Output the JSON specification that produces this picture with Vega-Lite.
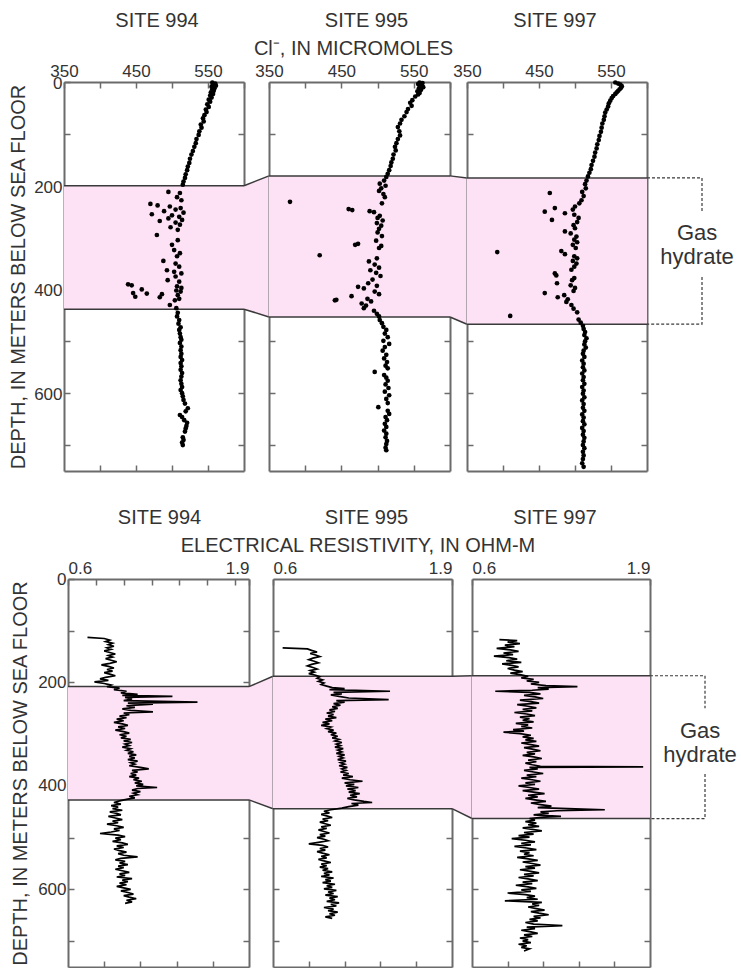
{
  "$schema": "https://vega.github.io/schema/vega-lite/v6.json",
  "padding": {"left": 8, "top": 11, "right": 5, "bottom": 0},
  "config": {
    "font": "Liberation Sans",
    "view": {"stroke": null},
    "title": {"font": "Liberation Sans", "fontSize": 20, "fontWeight": "normal", "color": "#333", "frame": "group", "anchor": "middle", "offset": 7.5},
    "axis": {"zindex": 1, "grid": false, "domainColor": "#6b6b6b", "domainWidth": 2, "tickColor": "#6b6b6b", "tickWidth": 1.5, "tickSize": -6, "labelFont": "Liberation Sans", "labelFontSize": 17, "labelColor": "#333", "labelPadding": 8, "titleFont": "Liberation Sans", "titleFontSize": 20, "titleFontWeight": "normal", "titleColor": "#333", "titlePadding": 3.5}
  },
  "datasets": {
    "zonesTop": [
      {"col": 0, "site": "994", "top": 200, "bot": 438},
      {"col": 1, "site": "995", "top": 181, "bot": 453},
      {"col": 2, "site": "997", "top": 185, "bot": 467}
    ],
    "zonesBot": [
      {"col": 0, "site": "994", "top": 208, "bot": 427},
      {"col": 1, "site": "995", "top": 188, "bot": 444},
      {"col": 2, "site": "997", "top": 187, "bot": 463}
    ],
    "bracketTop": [
      {"part": "a", "k": 0, "x": 0, "d": 185}, {"part": "a", "k": 1, "x": 1, "d": 185}, {"part": "a", "k": 2, "x": 1, "d": 251},
      {"part": "b", "k": 0, "x": 1, "d": 376}, {"part": "b", "k": 1, "x": 1, "d": 467}, {"part": "b", "k": 2, "x": 0, "d": 467}
    ],
    "bracketBot": [
      {"part": "a", "k": 0, "x": 0, "d": 187}, {"part": "a", "k": 1, "x": 1, "d": 187}, {"part": "a", "k": 2, "x": 1, "d": 250},
      {"part": "b", "k": 0, "x": 1, "d": 377}, {"part": "b", "k": 1, "x": 1, "d": 463}, {"part": "b", "k": 2, "x": 0, "d": 463}
    ],
    "noteTop": [{"x": 0.91, "d": 291, "t": "Gas"}, {"x": 0.91, "d": 338, "t": "hydrate"}],
    "noteBot": [{"x": 0.91, "d": 294, "t": "Gas"}, {"x": 0.91, "d": 340, "t": "hydrate"}],
    "cl994": [
      {"d":1,"c":556},{"d":3,"c":560},{"d":5,"c":557},{"d":7,"c":561},{"d":9,"c":555},{"d":12,"c":559},{"d":14,"c":556},{"d":17,"c":558},{"d":20,"c":554},{"d":23,"c":557},{"d":26,"c":553},{"d":30,"c":555},{"d":34,"c":551},{"d":38,"c":553},{"d":43,"c":549},{"d":48,"c":551},{"d":53,"c":547},{"d":58,"c":548},{"d":64,"c":545},{"d":70,"c":543},{"d":76,"c":544},{"d":82,"c":540},{"d":88,"c":541},{"d":95,"c":538},{"d":102,"c":537},{"d":110,"c":534},{"d":118,"c":533},{"d":125,"c":531},{"d":133,"c":529},{"d":140,"c":527},{"d":148,"c":525},{"d":156,"c":524},{"d":163,"c":522},{"d":170,"c":521},{"d":178,"c":519},{"d":185,"c":518},{"d":192,"c":516},{"d":198,"c":515},
      {"d":212,"c":495},{"d":214,"c":511},{"d":222,"c":507},{"d":228,"c":513},{"d":235,"c":470},{"d":238,"c":480},{"d":240,"c":497},{"d":243,"c":512},{"d":246,"c":505},{"d":249,"c":489},{"d":252,"c":516},{"d":255,"c":472},{"d":257,"c":500},{"d":260,"c":510},{"d":263,"c":495},{"d":266,"c":514},{"d":268,"c":483},{"d":271,"c":505},{"d":275,"c":511},{"d":280,"c":498},{"d":285,"c":508},{"d":295,"c":479},{"d":305,"c":508},{"d":314,"c":500},{"d":324,"c":503},{"d":330,"c":511},{"d":336,"c":507},{"d":345,"c":488},{"d":350,"c":505},{"d":356,"c":510},{"d":363,"c":493},{"d":366,"c":503},{"d":369,"c":513},{"d":375,"c":505},{"d":382,"c":494},{"d":385,"c":510},{"d":390,"c":439},{"d":392,"c":444},{"d":394,"c":507},{"d":397,"c":513},{"d":400,"c":458},{"d":402,"c":506},{"d":404,"c":512},{"d":407,"c":446},{"d":408,"c":465},{"d":409,"c":486},{"d":411,"c":508},{"d":414,"c":449},{"d":415,"c":483},{"d":418,"c":510},{"d":421,"c":504},{"d":430,"c":497},{"d":436,"c":506},
      {"d":445,"c":508},{"d":452,"c":507},{"d":459,"c":510},{"d":466,"c":509},{"d":473,"c":512},{"d":478,"c":510},{"d":485,"c":511},{"d":492,"c":512},{"d":497,"c":513},{"d":503,"c":511},{"d":510,"c":513},{"d":517,"c":512},{"d":524,"c":513},{"d":530,"c":512},{"d":536,"c":514},{"d":542,"c":512},{"d":548,"c":513},{"d":555,"c":512},{"d":561,"c":514},{"d":568,"c":513},{"d":575,"c":512},{"d":582,"c":513},{"d":588,"c":514},{"d":594,"c":512},{"d":600,"c":514},{"d":606,"c":515},{"d":613,"c":516},{"d":620,"c":518},{"d":629,"c":522},{"d":635,"c":519},{"d":642,"c":511},{"d":646,"c":514},{"d":652,"c":517},{"d":657,"c":521},{"d":663,"c":520},{"d":668,"c":519},{"d":674,"c":518},{"d":685,"c":515},{"d":690,"c":516},{"d":695,"c":514},{"d":700,"c":515}
    ],
    "cl995": [
      {"d":1,"c":558},{"d":2,"c":562},{"d":4,"c":556},{"d":6,"c":561},{"d":8,"c":559},{"d":10,"c":563},{"d":12,"c":557},{"d":15,"c":560},{"d":18,"c":555},{"d":21,"c":558},{"d":24,"c":556},{"d":28,"c":552},{"d":35,"c":548},{"d":40,"c":545},{"d":46,"c":547},{"d":52,"c":542},{"d":58,"c":540},{"d":66,"c":537},{"d":73,"c":533},{"d":80,"c":531},{"d":87,"c":528},{"d":95,"c":530},{"d":103,"c":531},{"d":110,"c":528},{"d":118,"c":526},{"d":125,"c":524},{"d":132,"c":525},{"d":140,"c":522},{"d":148,"c":521},{"d":155,"c":519},{"d":162,"c":518},{"d":170,"c":516},{"d":177,"c":514},{"d":183,"c":512},
      {"d":190,"c":509},{"d":196,"c":503},{"d":200,"c":511},{"d":205,"c":505},{"d":210,"c":502},{"d":216,"c":508},{"d":222,"c":510},{"d":231,"c":379},{"d":234,"c":506},{"d":245,"c":460},{"d":247,"c":465},{"d":249,"c":489},{"d":251,"c":495},{"d":258,"c":503},{"d":262,"c":500},{"d":267,"c":507},{"d":272,"c":499},{"d":277,"c":505},{"d":283,"c":502},{"d":290,"c":500},{"d":297,"c":506},{"d":306,"c":498},{"d":312,"c":473},{"d":314,"c":469},{"d":316,"c":505},{"d":320,"c":502},{"d":334,"c":420},{"d":340,"c":499},{"d":346,"c":488},{"d":352,"c":496},{"d":358,"c":502},{"d":363,"c":490},{"d":368,"c":498},{"d":374,"c":504},{"d":381,"c":493},{"d":388,"c":487},{"d":393,"c":499},{"d":395,"c":473},{"d":398,"c":481},{"d":404,"c":496},{"d":409,"c":502},{"d":413,"c":464},{"d":418,"c":486},{"d":420,"c":443},{"d":421,"c":441},{"d":423,"c":491},{"d":427,"c":478},{"d":431,"c":484},{"d":436,"c":481},{"d":441,"c":495},{"d":447,"c":499},{"d":452,"c":502},
      {"d":459,"c":503},{"d":465,"c":506},{"d":472,"c":508},{"d":478,"c":512},{"d":485,"c":510},{"d":492,"c":514},{"d":499,"c":508},{"d":505,"c":516},{"d":511,"c":510},{"d":518,"c":507},{"d":526,"c":512},{"d":533,"c":509},{"d":540,"c":513},{"d":547,"c":511},{"d":552,"c":514},{"d":559,"c":496},{"d":565,"c":509},{"d":570,"c":512},{"d":576,"c":514},{"d":583,"c":511},{"d":590,"c":515},{"d":597,"c":510},{"d":604,"c":516},{"d":611,"c":512},{"d":619,"c":514},{"d":627,"c":501},{"d":634,"c":514},{"d":640,"c":516},{"d":646,"c":511},{"d":652,"c":513},{"d":659,"c":510},{"d":665,"c":512},{"d":672,"c":509},{"d":678,"c":512},{"d":685,"c":511},{"d":692,"c":513},{"d":698,"c":512},{"d":705,"c":511},{"d":710,"c":512}
    ],
    "cl997": [
      {"d":1,"c":556},{"d":3,"c":560},{"d":5,"c":563},{"d":8,"c":565},{"d":11,"c":564},{"d":14,"c":562},{"d":17,"c":560},{"d":20,"c":558},{"d":23,"c":556},{"d":27,"c":553},{"d":31,"c":551},{"d":36,"c":549},{"d":41,"c":547},{"d":47,"c":546},{"d":53,"c":544},{"d":59,"c":542},{"d":66,"c":541},{"d":73,"c":540},{"d":80,"c":538},{"d":88,"c":537},{"d":96,"c":536},{"d":104,"c":534},{"d":112,"c":533},{"d":120,"c":531},{"d":128,"c":530},{"d":136,"c":528},{"d":144,"c":527},{"d":152,"c":525},{"d":160,"c":523},{"d":168,"c":522},{"d":175,"c":520},{"d":182,"c":518},
      {"d":190,"c":516},{"d":197,"c":514},{"d":205,"c":515},{"d":212,"c":510},{"d":214,"c":465},{"d":220,"c":512},{"d":228,"c":509},{"d":234,"c":506},{"d":240,"c":500},{"d":243,"c":472},{"d":246,"c":497},{"d":250,"c":458},{"d":253,"c":486},{"d":256,"c":499},{"d":262,"c":505},{"d":266,"c":468},{"d":270,"c":503},{"d":276,"c":498},{"d":282,"c":500},{"d":288,"c":486},{"d":292,"c":494},{"d":298,"c":502},{"d":304,"c":499},{"d":309,"c":503},{"d":314,"c":497},{"d":320,"c":501},{"d":326,"c":481},{"d":328,"c":392},{"d":332,"c":486},{"d":336,"c":499},{"d":340,"c":503},{"d":345,"c":497},{"d":350,"c":502},{"d":356,"c":499},{"d":362,"c":495},{"d":369,"c":472},{"d":373,"c":474},{"d":378,"c":499},{"d":382,"c":496},{"d":388,"c":475},{"d":392,"c":494},{"d":397,"c":500},{"d":403,"c":498},{"d":407,"c":458},{"d":411,"c":485},{"d":415,"c":476},{"d":419,"c":490},{"d":424,"c":488},{"d":430,"c":495},{"d":437,"c":498},{"d":444,"c":503},{"d":451,"c":410},{"d":458,"c":505},{"d":464,"c":508},
      {"d":470,"c":511},{"d":476,"c":512},{"d":482,"c":514},{"d":488,"c":513},{"d":494,"c":516},{"d":500,"c":514},{"d":506,"c":513},{"d":512,"c":515},{"d":518,"c":512},{"d":524,"c":511},{"d":530,"c":513},{"d":537,"c":510},{"d":543,"c":512},{"d":550,"c":511},{"d":556,"c":513},{"d":562,"c":510},{"d":569,"c":512},{"d":575,"c":511},{"d":582,"c":513},{"d":588,"c":510},{"d":595,"c":512},{"d":601,"c":511},{"d":608,"c":513},{"d":614,"c":510},{"d":621,"c":512},{"d":628,"c":511},{"d":634,"c":513},{"d":641,"c":510},{"d":647,"c":512},{"d":654,"c":511},{"d":660,"c":513},{"d":667,"c":510},{"d":673,"c":512},{"d":680,"c":511},{"d":686,"c":513},{"d":693,"c":512},{"d":700,"c":511},{"d":706,"c":513},{"d":713,"c":511},{"d":720,"c":512},{"d":727,"c":511},{"d":735,"c":510},{"d":742,"c":512}
    ],
    "res994": [
      {"d":113,"r":0.74},{"d":115,"r":0.86},{"d":118,"r":0.90},{"d":121,"r":0.87},{"d":124,"r":0.92},{"d":127,"r":0.89},{"d":130,"r":0.93},{"d":133,"r":0.88},{"d":136,"r":0.91},{"d":139,"r":0.86},{"d":142,"r":0.90},{"d":145,"r":0.94},{"d":148,"r":0.89},{"d":151,"r":0.92},{"d":154,"r":0.87},{"d":157,"r":0.91},{"d":160,"r":0.95},{"d":163,"r":0.90},{"d":166,"r":0.84},{"d":169,"r":0.89},{"d":172,"r":0.93},{"d":175,"r":0.88},{"d":178,"r":0.92},{"d":181,"r":0.86},{"d":184,"r":0.90},{"d":187,"r":0.94},{"d":190,"r":0.87},{"d":193,"r":0.83},{"d":196,"r":0.89},{"d":199,"r":0.79},{"d":202,"r":0.86},{"d":205,"r":0.91},{"d":208,"r":0.88},
      {"d":211,"r":0.97},{"d":214,"r":0.93},{"d":217,"r":1.02},{"d":220,"r":0.98},{"d":223,"r":1.10},{"d":225,"r":0.99},{"d":227,"r":1.35},{"d":229,"r":1.01},{"d":232,"r":1.06},{"d":235,"r":1.00},{"d":238,"r":1.53},{"d":240,"r":1.03},{"d":242,"r":1.21},{"d":245,"r":1.02},{"d":248,"r":1.08},{"d":251,"r":0.99},{"d":254,"r":1.05},{"d":257,"r":1.21},{"d":259,"r":1.00},{"d":262,"r":1.04},{"d":265,"r":0.97},{"d":268,"r":1.02},{"d":271,"r":0.95},{"d":274,"r":1.00},{"d":277,"r":0.93},{"d":280,"r":0.99},{"d":283,"r":1.03},{"d":286,"r":0.96},{"d":289,"r":1.01},{"d":292,"r":0.94},{"d":295,"r":1.00},{"d":298,"r":1.04},{"d":301,"r":0.97},{"d":304,"r":1.02},{"d":307,"r":0.98},{"d":310,"r":1.05},{"d":313,"r":1.00},{"d":316,"r":1.06},{"d":319,"r":1.01},{"d":322,"r":1.04},{"d":325,"r":0.99},{"d":328,"r":1.05},{"d":331,"r":1.02},{"d":334,"r":1.07},{"d":337,"r":1.03},{"d":340,"r":1.09},{"d":343,"r":1.04},{"d":346,"r":1.08},{"d":349,"r":1.03},{"d":352,"r":1.10},{"d":355,"r":1.05},{"d":358,"r":1.08},{"d":361,"r":1.04},{"d":364,"r":1.12},{"d":367,"r":1.18},{"d":370,"r":1.06},{"d":373,"r":1.10},{"d":376,"r":1.05},{"d":379,"r":1.09},{"d":382,"r":1.04},{"d":385,"r":1.11},{"d":388,"r":1.07},{"d":391,"r":1.13},{"d":394,"r":1.08},{"d":397,"r":1.14},{"d":400,"r":1.09},{"d":403,"r":1.24},{"d":405,"r":1.10},{"d":408,"r":1.06},{"d":411,"r":1.12},{"d":414,"r":1.07},{"d":417,"r":1.10},{"d":420,"r":1.04},{"d":423,"r":1.08},{"d":426,"r":1.02},
      {"d":429,"r":0.97},{"d":432,"r":0.93},{"d":435,"r":0.98},{"d":438,"r":0.91},{"d":441,"r":0.96},{"d":444,"r":0.92},{"d":447,"r":0.99},{"d":450,"r":0.90},{"d":453,"r":0.95},{"d":456,"r":0.98},{"d":459,"r":0.89},{"d":462,"r":0.94},{"d":465,"r":0.99},{"d":468,"r":0.92},{"d":471,"r":0.96},{"d":474,"r":0.88},{"d":477,"r":0.95},{"d":480,"r":1.00},{"d":483,"r":0.93},{"d":486,"r":0.97},{"d":489,"r":0.91},{"d":492,"r":0.83},{"d":495,"r":0.96},{"d":498,"r":1.01},{"d":501,"r":0.94},{"d":504,"r":0.98},{"d":507,"r":0.92},{"d":510,"r":0.99},{"d":513,"r":1.03},{"d":516,"r":0.95},{"d":519,"r":1.00},{"d":522,"r":0.93},{"d":525,"r":0.97},{"d":528,"r":1.02},{"d":531,"r":0.96},{"d":534,"r":1.00},{"d":537,"r":1.10},{"d":540,"r":0.98},{"d":543,"r":0.94},{"d":546,"r":1.01},{"d":549,"r":0.97},{"d":552,"r":1.03},{"d":555,"r":0.96},{"d":558,"r":1.00},{"d":561,"r":0.94},{"d":564,"r":0.99},{"d":567,"r":1.04},{"d":570,"r":0.97},{"d":573,"r":1.01},{"d":576,"r":0.95},{"d":579,"r":1.06},{"d":582,"r":0.99},{"d":585,"r":1.03},{"d":588,"r":0.97},{"d":591,"r":1.02},{"d":594,"r":0.95},{"d":597,"r":1.00},{"d":600,"r":1.05},{"d":603,"r":0.98},{"d":606,"r":1.03},{"d":609,"r":1.07},{"d":612,"r":1.00},{"d":615,"r":1.04},{"d":618,"r":1.09},{"d":621,"r":1.02},{"d":624,"r":1.06},{"d":627,"r":1.01}
    ],
    "res995": [
      {"d":133,"r":0.67},{"d":135,"r":0.85},{"d":138,"r":0.88},{"d":141,"r":0.92},{"d":144,"r":0.87},{"d":147,"r":0.91},{"d":150,"r":0.94},{"d":153,"r":0.89},{"d":156,"r":0.86},{"d":159,"r":0.90},{"d":162,"r":0.93},{"d":165,"r":0.88},{"d":168,"r":0.85},{"d":171,"r":0.89},{"d":174,"r":0.92},{"d":177,"r":0.87},{"d":180,"r":0.90},{"d":183,"r":0.86},{"d":186,"r":0.91},
      {"d":189,"r":0.94},{"d":192,"r":0.92},{"d":195,"r":0.96},{"d":198,"r":0.93},{"d":201,"r":0.97},{"d":204,"r":0.95},{"d":207,"r":0.99},{"d":210,"r":1.03},{"d":212,"r":1.12},{"d":214,"r":1.01},{"d":217,"r":1.45},{"d":219,"r":1.04},{"d":222,"r":1.10},{"d":224,"r":1.02},{"d":227,"r":1.08},{"d":230,"r":1.15},{"d":233,"r":1.44},{"d":235,"r":1.06},{"d":238,"r":1.12},{"d":241,"r":1.04},{"d":244,"r":1.09},{"d":247,"r":1.03},{"d":250,"r":1.07},{"d":253,"r":1.01},{"d":256,"r":1.05},{"d":259,"r":0.99},{"d":262,"r":1.04},{"d":265,"r":1.00},{"d":268,"r":1.06},{"d":271,"r":0.98},{"d":274,"r":1.03},{"d":277,"r":0.96},{"d":280,"r":1.01},{"d":283,"r":0.95},{"d":286,"r":1.02},{"d":289,"r":0.99},{"d":292,"r":1.04},{"d":295,"r":1.00},{"d":298,"r":1.06},{"d":301,"r":1.02},{"d":304,"r":1.07},{"d":307,"r":1.03},{"d":310,"r":1.08},{"d":313,"r":1.05},{"d":316,"r":1.10},{"d":319,"r":1.06},{"d":322,"r":1.09},{"d":325,"r":1.05},{"d":328,"r":1.11},{"d":331,"r":1.07},{"d":334,"r":1.10},{"d":337,"r":1.06},{"d":340,"r":1.12},{"d":343,"r":1.08},{"d":346,"r":1.11},{"d":349,"r":1.07},{"d":352,"r":1.13},{"d":355,"r":1.09},{"d":358,"r":1.12},{"d":361,"r":1.08},{"d":364,"r":1.14},{"d":367,"r":1.10},{"d":370,"r":1.13},{"d":373,"r":1.09},{"d":376,"r":1.15},{"d":379,"r":1.11},{"d":382,"r":1.18},{"d":385,"r":1.10},{"d":388,"r":1.16},{"d":391,"r":1.25},{"d":394,"r":1.12},{"d":397,"r":1.19},{"d":400,"r":1.13},{"d":403,"r":1.22},{"d":406,"r":1.14},{"d":409,"r":1.20},{"d":412,"r":1.15},{"d":415,"r":1.23},{"d":418,"r":1.16},{"d":421,"r":1.21},{"d":424,"r":1.14},{"d":427,"r":1.19},{"d":430,"r":1.26},{"d":432,"r":1.32},{"d":434,"r":1.17},{"d":437,"r":1.22},{"d":440,"r":1.15},{"d":443,"r":1.10},
      {"d":446,"r":1.02},{"d":449,"r":0.97},{"d":452,"r":1.01},{"d":455,"r":0.95},{"d":458,"r":0.99},{"d":461,"r":1.03},{"d":464,"r":0.96},{"d":467,"r":1.00},{"d":470,"r":0.94},{"d":473,"r":0.98},{"d":476,"r":1.02},{"d":479,"r":0.95},{"d":482,"r":0.99},{"d":485,"r":0.93},{"d":488,"r":0.97},{"d":491,"r":1.01},{"d":494,"r":0.94},{"d":497,"r":0.98},{"d":500,"r":0.92},{"d":503,"r":0.97},{"d":506,"r":1.00},{"d":509,"r":0.93},{"d":512,"r":0.86},{"d":515,"r":0.96},{"d":518,"r":1.00},{"d":521,"r":0.94},{"d":524,"r":0.98},{"d":527,"r":0.92},{"d":530,"r":0.96},{"d":533,"r":1.01},{"d":536,"r":0.95},{"d":539,"r":0.99},{"d":542,"r":0.93},{"d":545,"r":0.97},{"d":548,"r":1.02},{"d":551,"r":0.95},{"d":554,"r":0.99},{"d":557,"r":0.94},{"d":560,"r":1.00},{"d":563,"r":0.96},{"d":566,"r":1.03},{"d":569,"r":0.97},{"d":572,"r":1.01},{"d":575,"r":0.95},{"d":578,"r":1.04},{"d":581,"r":0.98},{"d":584,"r":1.02},{"d":587,"r":0.96},{"d":590,"r":1.05},{"d":593,"r":0.99},{"d":596,"r":1.03},{"d":599,"r":0.97},{"d":602,"r":1.06},{"d":605,"r":1.00},{"d":608,"r":1.04},{"d":611,"r":0.98},{"d":614,"r":1.07},{"d":617,"r":1.01},{"d":620,"r":1.05},{"d":623,"r":0.99},{"d":626,"r":1.08},{"d":629,"r":1.02},{"d":632,"r":1.06},{"d":635,"r":0.97},{"d":638,"r":1.04},{"d":641,"r":1.00},{"d":644,"r":1.07},{"d":647,"r":1.01},{"d":650,"r":1.05},{"d":653,"r":0.98},{"d":656,"r":1.03}
    ],
    "res997": [
      {"d":117,"r":0.80},{"d":119,"r":0.93},{"d":122,"r":0.86},{"d":125,"r":0.95},{"d":128,"r":0.84},{"d":131,"r":0.91},{"d":134,"r":0.78},{"d":137,"r":0.88},{"d":140,"r":0.94},{"d":143,"r":0.83},{"d":146,"r":0.90},{"d":149,"r":0.76},{"d":152,"r":0.87},{"d":155,"r":0.93},{"d":158,"r":0.85},{"d":161,"r":0.96},{"d":164,"r":0.82},{"d":167,"r":0.89},{"d":170,"r":0.94},{"d":173,"r":0.86},{"d":176,"r":0.91},{"d":179,"r":0.97},{"d":182,"r":0.88},{"d":185,"r":0.95},
      {"d":188,"r":1.01},{"d":191,"r":0.96},{"d":194,"r":1.05},{"d":197,"r":1.00},{"d":200,"r":1.09},{"d":203,"r":1.03},{"d":206,"r":1.14},{"d":208,"r":1.37},{"d":210,"r":1.08},{"d":213,"r":1.16},{"d":215,"r":1.04},{"d":217,"r":0.77},{"d":219,"r":1.02},{"d":222,"r":1.10},{"d":225,"r":0.98},{"d":228,"r":1.06},{"d":231,"r":1.12},{"d":234,"r":0.95},{"d":237,"r":1.03},{"d":240,"r":1.09},{"d":243,"r":0.93},{"d":246,"r":1.01},{"d":249,"r":1.07},{"d":252,"r":0.97},{"d":255,"r":1.04},{"d":258,"r":0.91},{"d":261,"r":1.00},{"d":264,"r":1.06},{"d":267,"r":0.95},{"d":270,"r":1.02},{"d":273,"r":0.97},{"d":276,"r":1.05},{"d":279,"r":0.92},{"d":282,"r":1.01},{"d":285,"r":0.96},{"d":288,"r":1.04},{"d":291,"r":0.90},{"d":294,"r":0.98},{"d":296,"r":0.83},{"d":299,"r":0.95},{"d":302,"r":1.03},{"d":305,"r":0.97},{"d":308,"r":1.05},{"d":311,"r":0.99},{"d":314,"r":1.07},{"d":317,"r":0.96},{"d":320,"r":1.03},{"d":323,"r":1.09},{"d":326,"r":0.98},{"d":329,"r":1.04},{"d":332,"r":1.10},{"d":335,"r":1.00},{"d":338,"r":1.06},{"d":341,"r":0.97},{"d":344,"r":1.05},{"d":347,"r":1.11},{"d":350,"r":1.01},{"d":353,"r":1.07},{"d":356,"r":0.99},{"d":359,"r":1.04},{"d":362,"r":1.10},{"d":363,"r":1.85},{"d":364,"r":1.02},{"d":367,"r":1.08},{"d":370,"r":0.98},{"d":373,"r":1.05},{"d":376,"r":1.12},{"d":379,"r":1.00},{"d":382,"r":1.07},{"d":385,"r":0.96},{"d":388,"r":1.04},{"d":391,"r":1.10},{"d":394,"r":0.99},{"d":397,"r":1.06},{"d":400,"r":0.94},{"d":403,"r":1.02},{"d":406,"r":1.09},{"d":409,"r":0.97},{"d":412,"r":1.05},{"d":415,"r":1.13},{"d":418,"r":1.01},{"d":421,"r":1.08},{"d":424,"r":0.99},{"d":427,"r":1.06},{"d":430,"r":1.14},{"d":433,"r":1.03},{"d":436,"r":1.10},{"d":439,"r":1.18},{"d":442,"r":1.08},{"d":444,"r":1.30},{"d":446,"r":1.57},{"d":448,"r":1.22},{"d":450,"r":1.10},{"d":453,"r":1.16},{"d":456,"r":1.05},{"d":459,"r":1.25},{"d":461,"r":1.09},{"d":463,"r":1.02},
      {"d":466,"r":1.06},{"d":469,"r":0.99},{"d":472,"r":1.07},{"d":475,"r":1.01},{"d":478,"r":1.09},{"d":481,"r":0.97},{"d":484,"r":1.04},{"d":487,"r":1.11},{"d":490,"r":0.98},{"d":493,"r":1.05},{"d":496,"r":0.94},{"d":499,"r":1.02},{"d":502,"r":0.89},{"d":505,"r":0.99},{"d":508,"r":1.06},{"d":511,"r":0.96},{"d":514,"r":1.03},{"d":517,"r":0.91},{"d":520,"r":1.00},{"d":523,"r":1.07},{"d":526,"r":0.95},{"d":529,"r":1.02},{"d":532,"r":0.98},{"d":535,"r":1.05},{"d":538,"r":0.93},{"d":541,"r":1.01},{"d":544,"r":1.08},{"d":547,"r":0.97},{"d":550,"r":1.04},{"d":553,"r":1.10},{"d":556,"r":0.99},{"d":559,"r":1.06},{"d":562,"r":0.95},{"d":565,"r":1.03},{"d":568,"r":1.09},{"d":571,"r":0.98},{"d":574,"r":1.05},{"d":577,"r":0.94},{"d":580,"r":1.02},{"d":583,"r":1.08},{"d":586,"r":0.97},{"d":589,"r":1.04},{"d":592,"r":0.92},{"d":595,"r":1.01},{"d":598,"r":1.07},{"d":601,"r":0.96},{"d":604,"r":1.03},{"d":607,"r":0.86},{"d":610,"r":0.99},{"d":613,"r":1.06},{"d":616,"r":1.00},{"d":619,"r":1.08},{"d":622,"r":0.84},{"d":625,"r":1.11},{"d":628,"r":1.04},{"d":631,"r":1.09},{"d":634,"r":1.01},{"d":637,"r":1.07},{"d":640,"r":1.13},{"d":643,"r":1.03},{"d":646,"r":1.09},{"d":649,"r":1.16},{"d":652,"r":1.05},{"d":655,"r":1.10},{"d":658,"r":1.02},{"d":661,"r":1.08},{"d":664,"r":0.99},{"d":667,"r":1.05},{"d":670,"r":1.26},{"d":673,"r":1.00},{"d":676,"r":1.06},{"d":679,"r":0.96},{"d":682,"r":1.03},{"d":685,"r":1.08},{"d":688,"r":0.98},{"d":691,"r":1.04},{"d":694,"r":0.95},{"d":697,"r":1.01},{"d":700,"r":0.97},{"d":703,"r":1.03},{"d":706,"r":0.94},{"d":709,"r":1.00},{"d":712,"r":0.96},{"d":715,"r":1.02},{"d":719,"r":0.98}
    ]
  },
  "spacing": 36,
  "vconcat": [
    {
      "spacing": 0,
      "bounds": "flush",
      "hconcat": [
        {
          "width": 180, "height": 389,
          "title": {"text": "SITE 994", "dx": 3},
          "layer": [
            {"data": {"name": "zonesTop"}, "transform": [{"filter": "datum.col == 0"}],
             "mark": {"type": "rect", "color": "#fde1f4"},
             "encoding": {
               "x": {"datum": 350, "type": "quantitative", "scale": {"domain": [350, 600], "nice": false, "zero": false},
                     "axis": {"orient": "bottom", "values": [400, 450, 500, 550], "labels": false, "title": null}},
               "x2": {"datum": 600},
               "y": {"field": "top", "type": "quantitative", "scale": {"domain": [0, 750], "reverse": true, "nice": false, "zero": false},
                     "axis": {"orient": "right", "values": [100, 200, 300, 400, 500, 600, 700], "labels": false, "title": null}},
               "y2": {"field": "bot"}}},
            {"data": {"name": "zonesTop"}, "transform": [{"filter": "datum.col == 0"}, {"fold": ["top", "bot"], "as": ["edge", "depth"]}],
             "mark": {"type": "rule", "color": "#3a3a3a", "strokeWidth": 1.5},
             "encoding": {"y": {"field": "depth", "type": "quantitative", "axis": null}}},
            {"data": {"name": "cl994"},
             "mark": {"type": "circle", "size": 22, "color": "#000", "opacity": 1},
             "encoding": {
               "x": {"field": "c", "type": "quantitative", "scale": {"domain": [350, 600], "nice": false, "zero": false},
                     "axis": {"orient": "top", "values": [350, 400, 450, 500, 550, 600], "labelFlush": false, "labelExpr": "datum.value % 100 == 50 ? datum.label : ''", "title": "X", "titleOpacity": 0}},
               "y": {"field": "d", "type": "quantitative", "scale": {"domain": [0, 750], "reverse": true, "nice": false, "zero": false},
                     "axis": {"orient": "left", "values": [0, 100, 200, 300, 400, 500, 600, 700], "labelOffset": 1.5, "labelExpr": "datum.value % 200 == 0 ? datum.label : ''", "title": "DEPTH, IN METERS BELOW SEA FLOOR", "titlePadding": 5}}}}
          ],
          "resolve": {"axis": {"x": "independent", "y": "independent"}}
        },
        {
          "width": 25, "height": 389,
          "data": {"name": "zonesTop"},
          "transform": [{"filter": "datum.col <= 1"}],
          "encoding": {"x": {"field": "col", "type": "quantitative", "scale": {"domain": [0, 1], "nice": false, "zero": false}, "axis": null}},
          "layer": [
            {"mark": {"type": "area", "color": "#fde1f4", "opacity": 1},
             "encoding": {"y": {"field": "top", "type": "quantitative", "scale": {"domain": [0, 750], "reverse": true, "nice": false, "zero": false}, "axis": null}, "y2": {"field": "bot"}}},
            {"mark": {"type": "line", "color": "#3a3a3a", "strokeWidth": 1.5}, "encoding": {"y": {"field": "top", "type": "quantitative", "axis": null}}},
            {"mark": {"type": "line", "color": "#3a3a3a", "strokeWidth": 1.5}, "encoding": {"y": {"field": "bot", "type": "quantitative", "axis": null}}}
          ]
        },
        {
          "width": 181, "height": 389,
          "title": {"text": "SITE 995", "dx": 7},
          "layer": [
            {"data": {"name": "zonesTop"}, "transform": [{"filter": "datum.col == 1"}],
             "mark": {"type": "rect", "color": "#fde1f4"},
             "encoding": {
               "x": {"datum": 350, "type": "quantitative", "scale": {"domain": [350, 600], "nice": false, "zero": false},
                     "axis": {"orient": "bottom", "values": [400, 450, 500, 550], "labels": false, "title": null}},
               "x2": {"datum": 600},
               "y": {"field": "top", "type": "quantitative", "scale": {"domain": [0, 750], "reverse": true, "nice": false, "zero": false},
                     "axis": {"orient": "right", "values": [100, 200, 300, 400, 500, 600, 700], "labels": false, "title": null}},
               "y2": {"field": "bot"}}},
            {"data": {"name": "zonesTop"}, "transform": [{"filter": "datum.col == 1"}, {"fold": ["top", "bot"], "as": ["edge", "depth"]}],
             "mark": {"type": "rule", "color": "#3a3a3a", "strokeWidth": 1.5},
             "encoding": {"y": {"field": "depth", "type": "quantitative", "axis": null}}},
            {"data": {"name": "cl995"},
             "mark": {"type": "circle", "size": 22, "color": "#000", "opacity": 1},
             "encoding": {
               "x": {"field": "c", "type": "quantitative", "scale": {"domain": [350, 600], "nice": false, "zero": false},
                     "axis": {"orient": "top", "values": [350, 400, 450, 500, 550, 600], "labelFlush": false, "labelExpr": "datum.value % 100 == 50 ? datum.label : ''", "title": "Cl⁻, IN MICROMOLES", "titleX": 84}},
               "y": {"field": "d", "type": "quantitative", "scale": {"domain": [0, 750], "reverse": true, "nice": false, "zero": false},
                     "axis": {"orient": "left", "values": [100, 200, 300, 400, 500, 600, 700], "labels": false, "title": null}}}}
          ],
          "resolve": {"axis": {"x": "independent", "y": "independent"}}
        },
        {
          "width": 17, "height": 389,
          "data": {"name": "zonesTop"},
          "transform": [{"filter": "datum.col >= 1"}],
          "encoding": {"x": {"field": "col", "type": "quantitative", "scale": {"domain": [1, 2], "nice": false, "zero": false}, "axis": null}},
          "layer": [
            {"mark": {"type": "area", "color": "#fde1f4", "opacity": 1},
             "encoding": {"y": {"field": "top", "type": "quantitative", "scale": {"domain": [0, 750], "reverse": true, "nice": false, "zero": false}, "axis": null}, "y2": {"field": "bot"}}},
            {"mark": {"type": "line", "color": "#3a3a3a", "strokeWidth": 1.5}, "encoding": {"y": {"field": "top", "type": "quantitative", "axis": null}}},
            {"mark": {"type": "line", "color": "#3a3a3a", "strokeWidth": 1.5}, "encoding": {"y": {"field": "bot", "type": "quantitative", "axis": null}}}
          ]
        },
        {
          "width": 180, "height": 389,
          "title": {"text": "SITE 997", "dx": -2},
          "layer": [
            {"data": {"name": "zonesTop"}, "transform": [{"filter": "datum.col == 2"}],
             "mark": {"type": "rect", "color": "#fde1f4"},
             "encoding": {
               "x": {"datum": 350, "type": "quantitative", "scale": {"domain": [350, 600], "nice": false, "zero": false},
                     "axis": {"orient": "bottom", "values": [400, 450, 500, 550], "labels": false, "title": null}},
               "x2": {"datum": 600},
               "y": {"field": "top", "type": "quantitative", "scale": {"domain": [0, 750], "reverse": true, "nice": false, "zero": false},
                     "axis": {"orient": "right", "values": [100, 200, 300, 400, 500, 600, 700], "labels": false, "title": null}},
               "y2": {"field": "bot"}}},
            {"data": {"name": "zonesTop"}, "transform": [{"filter": "datum.col == 2"}, {"fold": ["top", "bot"], "as": ["edge", "depth"]}],
             "mark": {"type": "rule", "color": "#3a3a3a", "strokeWidth": 1.5},
             "encoding": {"y": {"field": "depth", "type": "quantitative", "axis": null}}},
            {"data": {"name": "cl997"},
             "mark": {"type": "circle", "size": 22, "color": "#000", "opacity": 1},
             "encoding": {
               "x": {"field": "c", "type": "quantitative", "scale": {"domain": [350, 600], "nice": false, "zero": false},
                     "axis": {"orient": "top", "values": [350, 400, 450, 500, 550, 600], "labelFlush": false, "labelExpr": "datum.value % 100 == 50 ? datum.label : ''", "title": "X", "titleOpacity": 0}},
               "y": {"field": "d", "type": "quantitative", "scale": {"domain": [0, 750], "reverse": true, "nice": false, "zero": false},
                     "axis": {"orient": "left", "values": [100, 200, 300, 400, 500, 600, 700], "labels": false, "title": null}}}}
          ],
          "resolve": {"axis": {"x": "independent", "y": "independent"}}
        },
        {
          "width": 55, "height": 389,
          "layer": [
            {"data": {"name": "bracketTop"},
             "mark": {"type": "line", "color": "#3a3a3a", "strokeWidth": 1.2, "strokeDash": [3, 2]},
             "encoding": {
               "x": {"field": "x", "type": "quantitative", "scale": {"domain": [0, 1], "nice": false, "zero": false}, "axis": null},
               "y": {"field": "d", "type": "quantitative", "scale": {"domain": [0, 750], "reverse": true, "nice": false, "zero": false}, "axis": null},
               "detail": {"field": "part"},
               "order": {"field": "k"}}},
            {"data": {"name": "noteTop"},
             "mark": {"type": "text", "fontSize": 22, "color": "#333", "baseline": "middle", "align": "center"},
             "encoding": {
               "x": {"field": "x", "type": "quantitative"},
               "y": {"field": "d", "type": "quantitative"},
               "text": {"field": "t"}}}
          ]
        }
      ]
    },
    {
      "spacing": 0,
      "bounds": "flush",
      "hconcat": [
        {
          "width": 4, "height": 388,
          "data": {"values": [{}]},
          "mark": {"type": "point", "opacity": 0}
        },
        {
          "width": 181, "height": 388,
          "title": {"text": "SITE 994", "dx": 1},
          "layer": [
            {"data": {"name": "zonesBot"}, "transform": [{"filter": "datum.col == 0"}],
             "mark": {"type": "rect", "color": "#fde1f4"},
             "encoding": {
               "x": {"datum": 0.6, "type": "quantitative", "scale": {"domain": [0.6, 1.9], "nice": false, "zero": false},
                     "axis": {"orient": "bottom", "values": [0.86, 1.12, 1.38, 1.64], "labels": false, "title": null}},
               "x2": {"datum": 1.9},
               "y": {"field": "top", "type": "quantitative", "scale": {"domain": [0, 750], "reverse": true, "nice": false, "zero": false},
                     "axis": {"orient": "right", "values": [100, 200, 300, 400, 500, 600, 700], "labels": false, "title": null}},
               "y2": {"field": "bot"}}},
            {"data": {"name": "zonesBot"}, "transform": [{"filter": "datum.col == 0"}, {"fold": ["top", "bot"], "as": ["edge", "depth"]}],
             "mark": {"type": "rule", "color": "#3a3a3a", "strokeWidth": 1.5},
             "encoding": {"y": {"field": "depth", "type": "quantitative", "axis": null}}},
            {"data": {"name": "res994"},
             "mark": {"type": "line", "color": "#000", "strokeWidth": 1.7},
             "encoding": {
               "x": {"field": "r", "type": "quantitative", "scale": {"domain": [0.6, 1.9], "nice": false, "zero": false},
                     "axis": {"orient": "top", "values": [0.6, 0.8, 1.0, 1.2, 1.4, 1.6, 1.8, 1.9], "format": ".1f", "labelFlush": true, "labelExpr": "datum.value == 0.6 || datum.value == 1.9 ? datum.label : ''", "title": "X", "titleOpacity": 0}},
               "y": {"field": "d", "type": "quantitative", "scale": {"domain": [0, 750], "reverse": true, "nice": false, "zero": false},
                     "axis": {"orient": "left", "values": [0, 100, 200, 300, 400, 500, 600, 700], "labelExpr": "datum.value % 200 == 0 ? datum.label : ''", "title": "DEPTH, IN METERS BELOW SEA FLOOR", "titlePadding": 7}},
               "order": {"field": "d"}}}
          ],
          "resolve": {"axis": {"x": "independent", "y": "independent"}}
        },
        {
          "width": 24, "height": 388,
          "data": {"name": "zonesBot"},
          "transform": [{"filter": "datum.col <= 1"}],
          "encoding": {"x": {"field": "col", "type": "quantitative", "scale": {"domain": [0, 1], "nice": false, "zero": false}, "axis": null}},
          "layer": [
            {"mark": {"type": "area", "color": "#fde1f4", "opacity": 1},
             "encoding": {"y": {"field": "top", "type": "quantitative", "scale": {"domain": [0, 750], "reverse": true, "nice": false, "zero": false}, "axis": null}, "y2": {"field": "bot"}}},
            {"mark": {"type": "line", "color": "#3a3a3a", "strokeWidth": 1.5}, "encoding": {"y": {"field": "top", "type": "quantitative", "axis": null}}},
            {"mark": {"type": "line", "color": "#3a3a3a", "strokeWidth": 1.5}, "encoding": {"y": {"field": "bot", "type": "quantitative", "axis": null}}}
          ]
        },
        {
          "width": 179, "height": 388,
          "title": {"text": "SITE 995", "dx": 4},
          "layer": [
            {"data": {"name": "zonesBot"}, "transform": [{"filter": "datum.col == 1"}],
             "mark": {"type": "rect", "color": "#fde1f4"},
             "encoding": {
               "x": {"datum": 0.6, "type": "quantitative", "scale": {"domain": [0.6, 1.9], "nice": false, "zero": false},
                     "axis": {"orient": "bottom", "values": [0.86, 1.12, 1.38, 1.64], "labels": false, "title": null}},
               "x2": {"datum": 1.9},
               "y": {"field": "top", "type": "quantitative", "scale": {"domain": [0, 750], "reverse": true, "nice": false, "zero": false},
                     "axis": {"orient": "right", "values": [100, 200, 300, 400, 500, 600, 700], "labels": false, "title": null}},
               "y2": {"field": "bot"}}},
            {"data": {"name": "zonesBot"}, "transform": [{"filter": "datum.col == 1"}, {"fold": ["top", "bot"], "as": ["edge", "depth"]}],
             "mark": {"type": "rule", "color": "#3a3a3a", "strokeWidth": 1.5},
             "encoding": {"y": {"field": "depth", "type": "quantitative", "axis": null}}},
            {"data": {"name": "res995"},
             "mark": {"type": "line", "color": "#000", "strokeWidth": 1.7},
             "encoding": {
               "x": {"field": "r", "type": "quantitative", "scale": {"domain": [0.6, 1.9], "nice": false, "zero": false},
                     "axis": {"orient": "top", "values": [0.6, 1.9], "format": ".1f", "labelFlush": true, "title": "ELECTRICAL RESISTIVITY, IN OHM-M", "titleX": 84.5}},
               "y": {"field": "d", "type": "quantitative", "scale": {"domain": [0, 750], "reverse": true, "nice": false, "zero": false},
                     "axis": {"orient": "left", "values": [100, 200, 300, 400, 500, 600, 700], "labels": false, "title": null}},
               "order": {"field": "d"}}}
          ],
          "resolve": {"axis": {"x": "independent", "y": "independent"}}
        },
        {
          "width": 20, "height": 388,
          "data": {"name": "zonesBot"},
          "transform": [{"filter": "datum.col >= 1"}],
          "encoding": {"x": {"field": "col", "type": "quantitative", "scale": {"domain": [1, 2], "nice": false, "zero": false}, "axis": null}},
          "layer": [
            {"mark": {"type": "area", "color": "#fde1f4", "opacity": 1},
             "encoding": {"y": {"field": "top", "type": "quantitative", "scale": {"domain": [0, 750], "reverse": true, "nice": false, "zero": false}, "axis": null}, "y2": {"field": "bot"}}},
            {"mark": {"type": "line", "color": "#3a3a3a", "strokeWidth": 1.5}, "encoding": {"y": {"field": "top", "type": "quantitative", "axis": null}}},
            {"mark": {"type": "line", "color": "#3a3a3a", "strokeWidth": 1.5}, "encoding": {"y": {"field": "bot", "type": "quantitative", "axis": null}}}
          ]
        },
        {
          "width": 178, "height": 388,
          "title": {"text": "SITE 997", "dx": -6},
          "layer": [
            {"data": {"name": "zonesBot"}, "transform": [{"filter": "datum.col == 2"}],
             "mark": {"type": "rect", "color": "#fde1f4"},
             "encoding": {
               "x": {"datum": 0.6, "type": "quantitative", "scale": {"domain": [0.6, 1.9], "nice": false, "zero": false},
                     "axis": {"orient": "bottom", "values": [0.86, 1.12, 1.38, 1.64], "labels": false, "title": null}},
               "x2": {"datum": 1.9},
               "y": {"field": "top", "type": "quantitative", "scale": {"domain": [0, 750], "reverse": true, "nice": false, "zero": false},
                     "axis": {"orient": "right", "values": [100, 200, 300, 400, 500, 600, 700], "labels": false, "title": null}},
               "y2": {"field": "bot"}}},
            {"data": {"name": "zonesBot"}, "transform": [{"filter": "datum.col == 2"}, {"fold": ["top", "bot"], "as": ["edge", "depth"]}],
             "mark": {"type": "rule", "color": "#3a3a3a", "strokeWidth": 1.5},
             "encoding": {"y": {"field": "depth", "type": "quantitative", "axis": null}}},
            {"data": {"name": "res997"},
             "mark": {"type": "line", "color": "#000", "strokeWidth": 1.7},
             "encoding": {
               "x": {"field": "r", "type": "quantitative", "scale": {"domain": [0.6, 1.9], "nice": false, "zero": false},
                     "axis": {"orient": "top", "values": [0.6, 1.9], "format": ".1f", "labelFlush": true, "title": "X", "titleOpacity": 0}},
               "y": {"field": "d", "type": "quantitative", "scale": {"domain": [0, 750], "reverse": true, "nice": false, "zero": false},
                     "axis": {"orient": "left", "values": [100, 200, 300, 400, 500, 600, 700], "labels": false, "title": null}},
               "order": {"field": "d"}}}
          ],
          "resolve": {"axis": {"x": "independent", "y": "independent"}}
        },
        {
          "width": 55, "height": 388,
          "layer": [
            {"data": {"name": "bracketBot"},
             "mark": {"type": "line", "color": "#3a3a3a", "strokeWidth": 1.2, "strokeDash": [3, 2]},
             "encoding": {
               "x": {"field": "x", "type": "quantitative", "scale": {"domain": [0, 1], "nice": false, "zero": false}, "axis": null},
               "y": {"field": "d", "type": "quantitative", "scale": {"domain": [0, 750], "reverse": true, "nice": false, "zero": false}, "axis": null},
               "detail": {"field": "part"},
               "order": {"field": "k"}}},
            {"data": {"name": "noteBot"},
             "mark": {"type": "text", "fontSize": 22, "color": "#333", "baseline": "middle", "align": "center"},
             "encoding": {
               "x": {"field": "x", "type": "quantitative"},
               "y": {"field": "d", "type": "quantitative"},
               "text": {"field": "t"}}}
          ]
        }
      ]
    }
  ]
}
